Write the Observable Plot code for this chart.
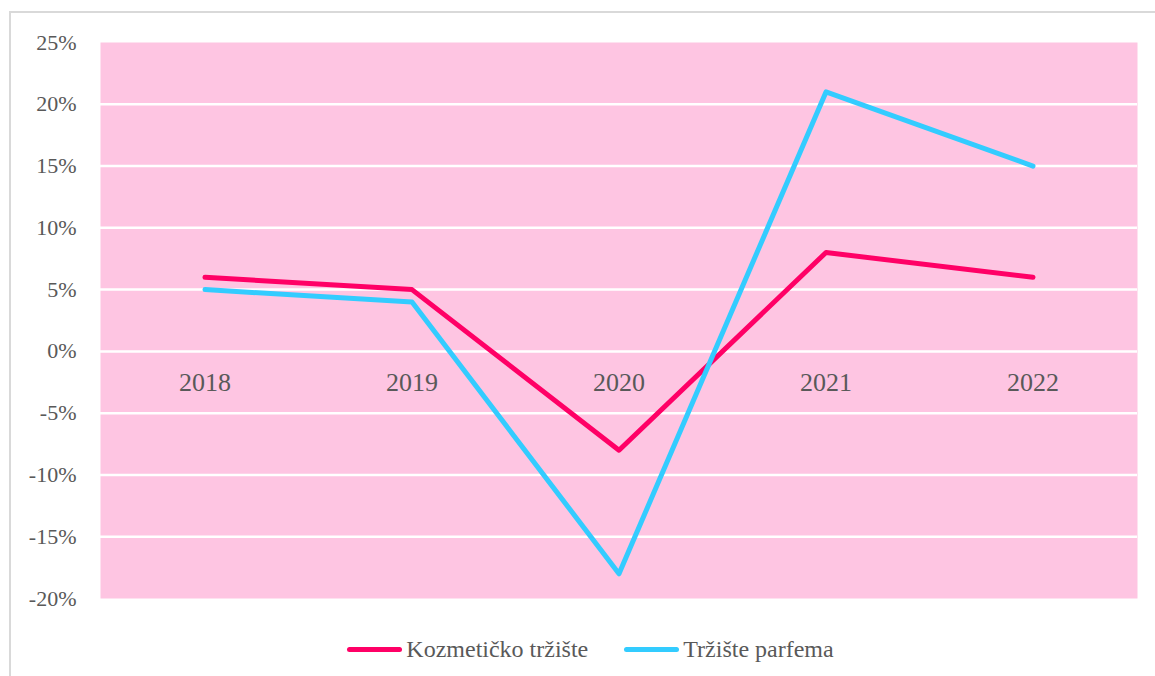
<!DOCTYPE html>
<html>
<head>
<meta charset="utf-8">
<script src="https://cdn.jsdelivr.net/npm/d3@7"></script>
<script src="https://cdn.jsdelivr.net/npm/@observablehq/plot@0.6"></script>
<style>
  html, body { margin: 0; padding: 0; background: #fff; overflow: hidden; width: 1155px; height: 676px; }
  #frame { position: absolute; left: 9px; top: 11px; width: 1200px; height: 700px;
           border-left: 2px solid #d9d9d9; border-top: 2px solid #d9d9d9; box-sizing: border-box; }
  #chart { position: absolute; left: 0; top: 0; }
  #chart svg text { font-family: "Liberation Serif", "DejaVu Serif", serif; }
  #legend { position: absolute; left: 13px; top: 636px; width: 1155px; display: flex; justify-content: center;
            font-family: "Liberation Serif", "DejaVu Serif", serif; font-size: 24px; color: #595959; }
  .item { display: flex; align-items: center; margin: 0 18px; }
  .swatch { width: 55px; height: 5px; border-radius: 3px; margin-right: 4px; }
</style>
</head>
<body>
<div id="frame"></div>
<div id="chart"></div>
<div id="legend"></div>
<script>
const years = ["2018", "2019", "2020", "2021", "2022"];
const kozmeticko = [6, 5, -8, 8, 6];
const parfemi = [5, 4, -18, 21, 15];
const seriesNames = ["Kozmetičko tržište", "Tržište parfema"];
const seriesColors = ["#ff0066", "#33ccff"];
const yTicks = [-20, -15, -10, -5, 0, 5, 10, 15, 20, 25];
const gridTicks = [-15, -10, -5, 0, 5, 10, 15, 20];

const data = [];
years.forEach((y, i) => {
  data.push({year: y, value: kozmeticko[i], series: seriesNames[0]});
  data.push({year: y, value: parfemi[i], series: seriesNames[1]});
});

const serif = "'Liberation Serif', 'DejaVu Serif', serif";
const plot = Plot.plot({
  width: 1155,
  height: 620,
  marginLeft: 100,
  marginRight: 18,
  marginTop: 42,
  marginBottom: 22,
  style: {fontFamily: serif, fontSize: "22px", color: "#595959", background: "transparent"},
  x: {type: "band", domain: years, padding: 0, axis: null, label: null},
  y: {domain: [-20, 25], axis: null, label: null},
  color: {domain: seriesNames, range: seriesColors},
  marks: [
    Plot.frame({fill: "#fec5e2", stroke: null}),
    Plot.ruleY(gridTicks, {stroke: "#ffffff", strokeWidth: 2.5, strokeOpacity: 1}),
    Plot.axisY({ticks: yTicks, label: null, tickSize: 0, tickPadding: 24, tickFormat: d => d + "%", fill: "#595959", fontSize: 22, fontFamily: serif}),
    Plot.text(years, {x: d => d, y: () => 0, dy: 31, text: d => d, fill: "#595959", fontSize: 26, fontFamily: serif}),
    Plot.line(data, {x: "year", y: "value", z: "series", stroke: "series", strokeWidth: 5, strokeLinecap: "round", strokeLinejoin: "round", curve: "linear"})
  ]
});
document.getElementById("chart").appendChild(plot);

const legend = document.getElementById("legend");
seriesNames.forEach((name, i) => {
  const item = document.createElement("div");
  item.className = "item";
  const sw = document.createElement("div");
  sw.className = "swatch";
  sw.style.background = seriesColors[i];
  const label = document.createElement("span");
  label.textContent = name;
  item.appendChild(sw);
  item.appendChild(label);
  legend.appendChild(item);
});
</script>
</body>
</html>
